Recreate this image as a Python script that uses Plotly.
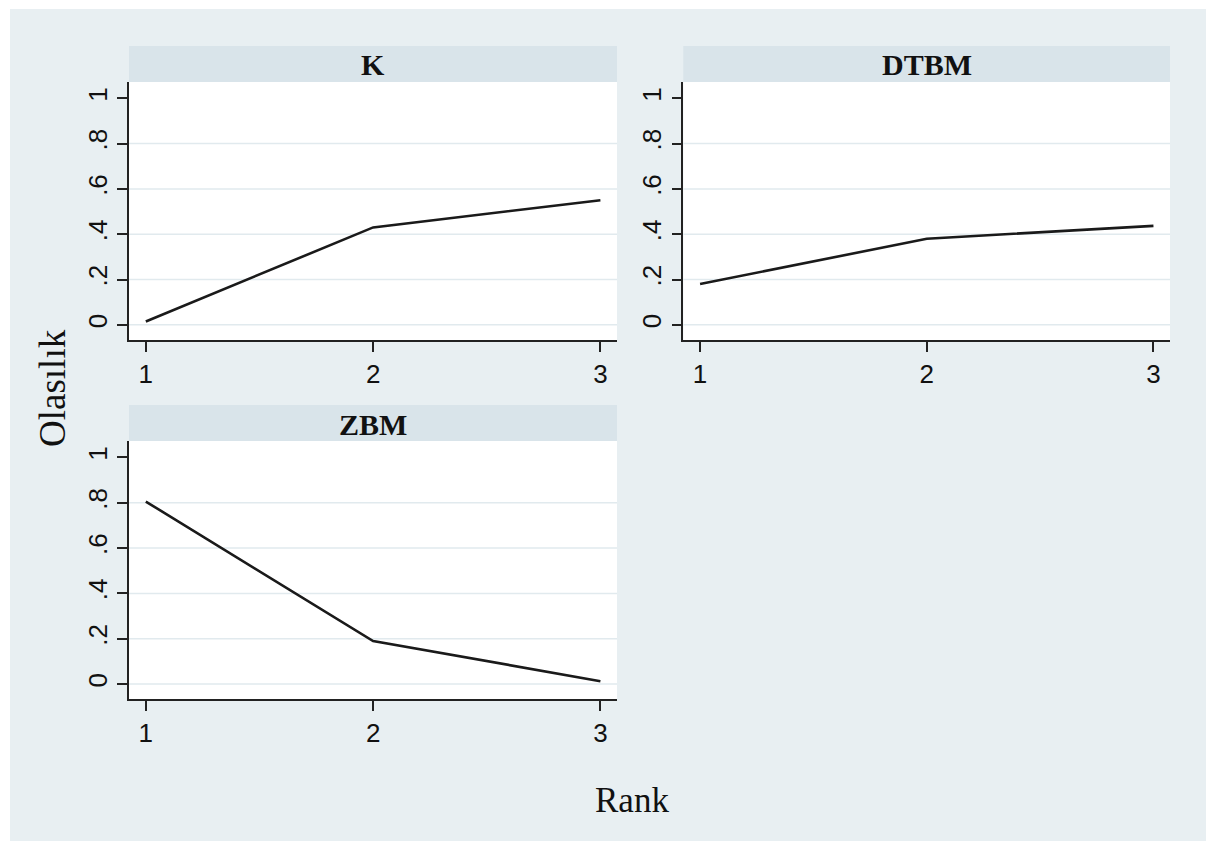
import plotly.graph_objects as go

# ---- data ----
ranks = [1, 2, 3]
panel_titles = ["K", "DTBM", "ZBM"]
k_vals = [0.015, 0.43, 0.55]
dtbm_vals = [0.18, 0.38, 0.437]
zbm_vals = [0.805, 0.19, 0.013]
y_tick_vals = [0, 0.2, 0.4, 0.6, 0.8, 1]
y_tick_text = ["0", ".2", ".4", ".6", ".8", "1"]
grid_vals = [0, 0.2, 0.4, 0.6, 0.8]
x_tick_vals = [1, 2, 3]

W, H = 1206, 841
BG = "#e8eff2"
STRIP = "#d9e4ea"
GRID = "#e1eaee"

def px(x):
    return x / W

def py(y):
    return 1 - y / H

# panel geometry in pixels: (left, right, top, bottom)
panels = [
    (129, 617, 82, 340),
    (683.3, 1170, 82, 340),
    (129, 617, 441, 699.3),
]
series = [k_vals, dtbm_vals, zbm_vals]

fig = go.Figure()
layout = dict(
    width=W, height=H,
    margin=dict(l=0, r=0, t=0, b=0),
    paper_bgcolor=BG,
    plot_bgcolor="white",
    showlegend=False,
)
# white border at the top and left edges
shapes = [
    dict(type="rect", xref="paper", yref="paper", x0=0, x1=px(10), y0=0, y1=1,
         fillcolor="white", line=dict(width=0)),
    dict(type="rect", xref="paper", yref="paper", x0=0, x1=1, y0=py(9), y1=1,
         fillcolor="white", line=dict(width=0)),
]
annotations = []

for i, ((l, r, t, b), vals, title) in enumerate(zip(panels, series, panel_titles)):
    n = "" if i == 0 else str(i + 1)
    xa, ya = "x" + n, "y" + n
    fig.add_trace(go.Scatter(x=ranks, y=vals, mode="lines",
                             line=dict(color="#1a1a1a", width=2.6),
                             xaxis=xa, yaxis=ya, hoverinfo="skip"))
    layout["xaxis" + n] = dict(
        domain=[px(l), px(r)], range=[0.926, 3.073], anchor=ya,
        tickvals=x_tick_vals, ticktext=[str(v) for v in x_tick_vals],
        ticks="outside", ticklen=10, tickwidth=1.5, tickcolor="#222",
        showline=True, linecolor="#222", linewidth=1.5,
        showgrid=False, zeroline=False,
        tickfont=dict(family="Liberation Sans, Arial", size=26, color="#111"),
    )
    layout["yaxis" + n] = dict(
        domain=[py(b), py(t)], range=[-0.067, 1.072], anchor=xa,
        tickvals=y_tick_vals, ticktext=y_tick_text, tickangle=-90,
        ticks="outside", ticklen=10, tickwidth=1.5, tickcolor="#222",
        showline=True, linecolor="#222", linewidth=1.5,
        showgrid=False, zeroline=False,
        tickfont=dict(family="Liberation Sans, Arial", size=26, color="#111"),
    )
    for g in grid_vals:
        shapes.append(dict(type="line", xref=xa + " domain", yref=ya, x0=0, x1=1, y0=g, y1=g,
                           line=dict(color=GRID, width=1.5), layer="below"))
    # strip
    shapes.append(dict(type="rect", xref="paper", yref="paper", x0=px(l), x1=px(r),
                       y0=py(t), y1=py(t - 36), fillcolor=STRIP, line=dict(width=0)))
    annotations.append(dict(text="<b>" + title + "</b>", xref="paper", yref="paper",
                            x=(px(l) + px(r)) / 2, y=py(t - 17), showarrow=False,
                            xanchor="center", yanchor="middle",
                            font=dict(family="Liberation Serif, Times New Roman", size=30, color="#111")))

annotations.append(dict(text="Olasılık", xref="paper", yref="paper", x=px(52), y=py(388),
                        textangle=-90, showarrow=False, xanchor="center", yanchor="middle",
                        font=dict(family="Liberation Serif, Times New Roman", size=37, color="#111")))
annotations.append(dict(text="Rank", xref="paper", yref="paper", x=px(632), y=py(800),
                        showarrow=False, xanchor="center", yanchor="middle",
                        font=dict(family="Liberation Serif, Times New Roman", size=35, color="#111")))

layout["shapes"] = shapes
layout["annotations"] = annotations
fig.update_layout(**layout)
fig.write_html("out.html")
